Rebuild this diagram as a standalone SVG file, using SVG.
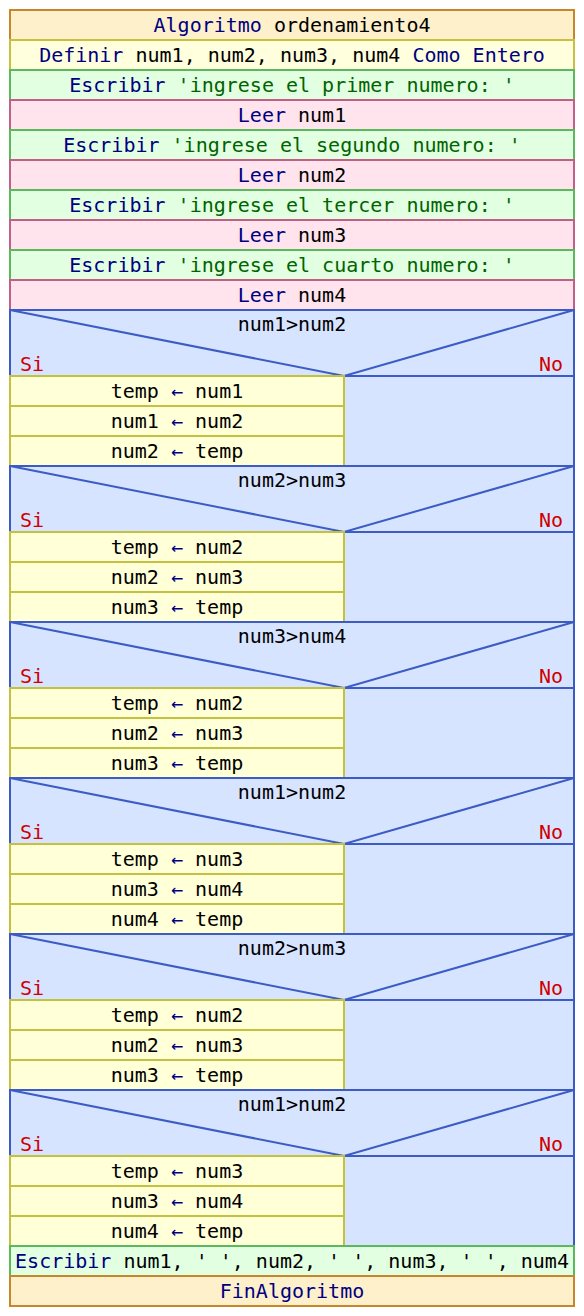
<svg xmlns="http://www.w3.org/2000/svg" width="584" height="1316" viewBox="0 0 584 1316">
<style>
text{font-family:"DejaVu Sans Mono","Liberation Mono",monospace;font-size:20px;text-anchor:middle;fill:#000}
.k{fill:#000080}
.s{fill:#006400}
.a{fill:#000080}
.sn{fill:#d00000}
.proc{fill:#fff0cc;stroke:#c8862a;stroke-width:2}
.def{fill:#ffffdd;stroke:#c8c040;stroke-width:2}
.esc{fill:#e2ffe2;stroke:#5cb85c;stroke-width:2}
.leer{fill:#ffe4ee;stroke:#c06088;stroke-width:2}
.si{fill:#d6e4ff;stroke:#3c5cc4;stroke-width:2}
.asg{fill:#ffffd8;stroke:#c4c040;stroke-width:2}
.dl{fill:none;stroke:#3c5cc4;stroke-width:2}
</style>
<defs>
<g id="dec">
<rect class="si" x="10" y="0" width="564" height="156"/>
<path class="dl" d="M10,0 L344,66 L574,0 M344,66 L574,66"/>
<text x="20" y="61" class="sn" style="text-anchor:start">Si</text>
<text x="563" y="61" class="sn" style="text-anchor:end">No</text>
</g>
</defs>
<g id="n0"><rect class="proc" x="10" y="10" width="564" height="30"/><text x="292" y="32"><tspan class="k">Algoritmo</tspan> ordenamiento4</text></g>
<g id="n1"><rect class="def" x="10" y="40" width="564" height="30"/><text x="292" y="62"><tspan class="k">Definir</tspan> num1, num2, num3, num4 <tspan class="k">Como Entero</tspan></text></g>
<g id="n2"><rect class="esc" x="10" y="70" width="564" height="30"/><text x="292" y="92"><tspan class="k">Escribir</tspan> <tspan class="s">'ingrese el primer numero: '</tspan></text></g>
<g id="n3"><rect class="leer" x="10" y="100" width="564" height="30"/><text x="292" y="122"><tspan class="k">Leer</tspan> num1</text></g>
<g id="n4"><rect class="esc" x="10" y="130" width="564" height="30"/><text x="292" y="152"><tspan class="k">Escribir</tspan> <tspan class="s">'ingrese el segundo numero: '</tspan></text></g>
<g id="n5"><rect class="leer" x="10" y="160" width="564" height="30"/><text x="292" y="182"><tspan class="k">Leer</tspan> num2</text></g>
<g id="n6"><rect class="esc" x="10" y="190" width="564" height="30"/><text x="292" y="212"><tspan class="k">Escribir</tspan> <tspan class="s">'ingrese el tercer numero: '</tspan></text></g>
<g id="n7"><rect class="leer" x="10" y="220" width="564" height="30"/><text x="292" y="242"><tspan class="k">Leer</tspan> num3</text></g>
<g id="n8"><rect class="esc" x="10" y="250" width="564" height="30"/><text x="292" y="272"><tspan class="k">Escribir</tspan> <tspan class="s">'ingrese el cuarto numero: '</tspan></text></g>
<g id="n9"><rect class="leer" x="10" y="280" width="564" height="30"/><text x="292" y="302"><tspan class="k">Leer</tspan> num4</text></g>

<g id="si1"><use href="#dec" y="310"/><text x="292" y="331">num1&gt;num2</text>
<rect class="asg" x="10" y="376" width="334" height="30"/><text x="177" y="398">temp <tspan class="a">←</tspan> num1</text>
<rect class="asg" x="10" y="406" width="334" height="30"/><text x="177" y="428">num1 <tspan class="a">←</tspan> num2</text>
<rect class="asg" x="10" y="436" width="334" height="30"/><text x="177" y="458">num2 <tspan class="a">←</tspan> temp</text></g>

<g id="si2"><use href="#dec" y="466"/><text x="292" y="487">num2&gt;num3</text>
<rect class="asg" x="10" y="532" width="334" height="30"/><text x="177" y="554">temp <tspan class="a">←</tspan> num2</text>
<rect class="asg" x="10" y="562" width="334" height="30"/><text x="177" y="584">num2 <tspan class="a">←</tspan> num3</text>
<rect class="asg" x="10" y="592" width="334" height="30"/><text x="177" y="614">num3 <tspan class="a">←</tspan> temp</text></g>

<g id="si3"><use href="#dec" y="622"/><text x="292" y="643">num3&gt;num4</text>
<rect class="asg" x="10" y="688" width="334" height="30"/><text x="177" y="710">temp <tspan class="a">←</tspan> num2</text>
<rect class="asg" x="10" y="718" width="334" height="30"/><text x="177" y="740">num2 <tspan class="a">←</tspan> num3</text>
<rect class="asg" x="10" y="748" width="334" height="30"/><text x="177" y="770">num3 <tspan class="a">←</tspan> temp</text></g>

<g id="si4"><use href="#dec" y="778"/><text x="292" y="799">num1&gt;num2</text>
<rect class="asg" x="10" y="844" width="334" height="30"/><text x="177" y="866">temp <tspan class="a">←</tspan> num3</text>
<rect class="asg" x="10" y="874" width="334" height="30"/><text x="177" y="896">num3 <tspan class="a">←</tspan> num4</text>
<rect class="asg" x="10" y="904" width="334" height="30"/><text x="177" y="926">num4 <tspan class="a">←</tspan> temp</text></g>

<g id="si5"><use href="#dec" y="934"/><text x="292" y="955">num2&gt;num3</text>
<rect class="asg" x="10" y="1000" width="334" height="30"/><text x="177" y="1022">temp <tspan class="a">←</tspan> num2</text>
<rect class="asg" x="10" y="1030" width="334" height="30"/><text x="177" y="1052">num2 <tspan class="a">←</tspan> num3</text>
<rect class="asg" x="10" y="1060" width="334" height="30"/><text x="177" y="1082">num3 <tspan class="a">←</tspan> temp</text></g>

<g id="si6"><use href="#dec" y="1090"/><text x="292" y="1111">num1&gt;num2</text>
<rect class="asg" x="10" y="1156" width="334" height="30"/><text x="177" y="1178">temp <tspan class="a">←</tspan> num3</text>
<rect class="asg" x="10" y="1186" width="334" height="30"/><text x="177" y="1208">num3 <tspan class="a">←</tspan> num4</text>
<rect class="asg" x="10" y="1216" width="334" height="30"/><text x="177" y="1238">num4 <tspan class="a">←</tspan> temp</text></g>

<g id="n10"><rect class="esc" x="10" y="1246" width="564" height="30"/><text x="292" y="1268" xml:space="preserve"><tspan class="k">Escribir</tspan> num1, ' ', num2, ' ', num3, ' ', num4</text></g>
<g id="n11"><rect class="proc" x="10" y="1276" width="564" height="30"/><text x="292" y="1298" class="k">FinAlgoritmo</text></g>
<g id="connectors"></g>
</svg>
